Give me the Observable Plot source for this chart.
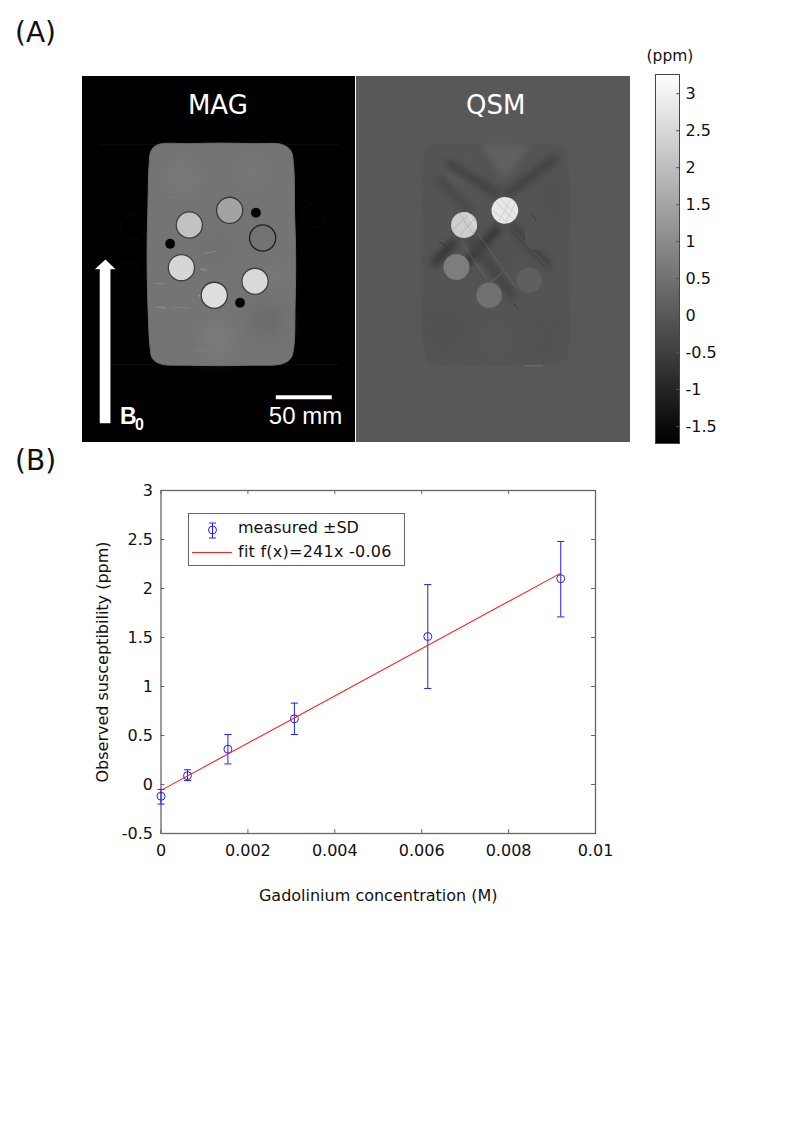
<!DOCTYPE html>
<html>
<head>
<meta charset="utf-8">
<script src="https://cdn.jsdelivr.net/npm/d3@7"></script>
<script src="https://cdn.jsdelivr.net/npm/@observablehq/plot@0.6"></script>
<style>
html,body{margin:0;padding:0;background:#fff;width:794px;height:1123px;overflow:hidden;font-family:"DejaVu Sans",sans-serif;}
.box{position:absolute;}
.box svg{display:block;overflow:visible;}
.soft{filter:blur(0.7px);}
.softer{filter:blur(3.5px);}
.softest{filter:blur(10px);}
#legend{position:absolute;left:188px;top:513px;width:217px;height:53px;border:1px solid #666;background:#fff;box-sizing:border-box;font-size:16px;color:#111;}
#legend span{position:absolute;left:49px;white-space:nowrap;line-height:20px;}
#legend svg{position:absolute;left:0;top:0;}
</style>
</head>
<body>
<div class="box" style="left:15px;top:16px;font-size:28px;color:#111;">(A)</div>
<div class="box" style="left:15px;top:444px;font-size:28px;color:#111;">(B)</div>
<div class="box" style="left:646.500px;top:47px;font-size:15.500px;color:#111;">(ppm)</div>
<div class="box" id="mag" style="left:82px;top:76px;"></div>
<div class="box" id="qsm" style="left:356px;top:76px;"></div>
<div class="box" id="bar" style="left:655px;top:74px;"></div>
<div class="box" id="chart" style="left:0;top:470px;"></div>
<div id="legend">
  <svg width="216" height="52"><g fill="none">
    <path d="M23.500 9V24M20 9H27M20 24H27" stroke="#2020ff"/><circle cx="23.500" cy="16" r="4" stroke="#2020ff"/>
    <path d="M3 38.500H43" stroke="#ff2020"/></g></svg>
  <span style="top:4px;">measured ±SD</span>
  <span style="top:28px;letter-spacing:.25px;">fit f(x)=241x -0.06</span>
</div>
<script>
// ---------- panel geometry in mm
const panelW = 244, panelH = 327;
const phantomOutline = [[68,60.7],[95,60],[123,59.5],[152,60],[178,60.7],[186,66],[188.7,80],[189.5,120],[190.5,158],[190,205],[188.7,243],[186,252],[178,256.8],[150,258],[123,258.3],[95,258],[70,256.8],[62.5,252],[60.5,243],[58.5,205],[57.7,158],[58.5,115],[59.5,80],[61.5,66]];
const arrowOutline = [[15.4,309.8],[25,309.8],[25,172.3],[29.5,172.3],[20.5,163.4],[11,172.3],[15.4,172.3]];
const scaleBar = [{x1:173.2,x2:223.2,y:286.6}];

// ---------- MAG
const magRods = [
  {x:131.5,y:119.6,r:11.7,v:.64,ring:.22},
  {x:95.5,y:132.7,r:11.7,v:.76,ring:.25},
  {x:161,y:144.3,r:11.7,v:.45,ring:.12},
  {x:88.4,y:170.8,r:11.7,v:.84,ring:.25},
  {x:154.2,y:183,r:11.7,v:.85,ring:.25},
  {x:117.8,y:195.5,r:11.7,v:.87,ring:.22}
];
const magHoles = [{x:155,y:121.7,r:4.4},{x:78.3,y:149.4,r:4.4},{x:140.8,y:202.1,r:4.4}];
const magPatches = [
  {x:165,y:218,r:14,v:.41},{x:120,y:235,r:14,v:.49},{x:90,y:90,r:14,v:.48},
  {x:150,y:85,r:14,v:.47},{x:172,y:178,r:8,v:.49},{x:120,y:155,r:10,v:.43}
];
const magSpecks = [
  {x1:104,y1:196,x2:110,y2:196,v:.75},{x1:105,y1:172,x2:111,y2:173,v:.58},{x1:109,y1:158,x2:119,y2:156,v:.55},
  {x1:66,y1:185,x2:72,y2:185,v:.55},{x1:66,y1:206,x2:75,y2:207,v:.57},{x1:80,y1:206,x2:96,y2:207,v:.5},
  {x1:78,y1:108,x2:84,y2:108,v:.5},{x1:100,y1:245,x2:112,y2:245,v:.5}
];
const magFaintLines = [{x1:16,x2:230,y:60.7},{x1:16,x2:230,y:257.5}];
const magFaintRings = [{x:45,y:134,r:11},{x:40,y:175,r:10},{x:207,y:124,r:11}];

// ---------- QSM values in ppm
const qsmBase = [{v:0}];
const qsmRods = [
  {x:132.1,y:119.6,r:11.9,v:2.8},
  {x:95.8,y:132.7,r:11.6,v:2.3},
  {x:89,y:170.2,r:11.6,v:0.72},
  {x:118.1,y:195.5,r:11.4,v:0.48},
  {x:153.9,y:182.1,r:11.4,v:0.12},
  {x:161.3,y:143.4,r:11.4,v:-0.09}
];
const qsmWedges = [{v:0.16,pts:[[110,60.7],[156,60.7],[131.5,92]]}];
const qsmBlobs = [
  {x:90,y:88,r:14,v:.05},{x:78,y:225,r:12,v:-.2},{x:125,y:235,r:14,v:-.02},{x:170,y:230,r:10,v:-.16},
  {x:175,y:110,r:8,v:-.2},{x:130,y:160,r:10,v:-.2}
];
const qsmDark = [
  {x1:178,y1:72,x2:133,y2:106.2,v:-.48},{x1:80,y1:76,x2:127.1,y2:106.2,v:-.48},
  {x1:127.1,y1:134.5,x2:88,y2:177,v:-.7},{x1:137.5,y1:133,x2:172,y2:170,v:-.48},
  {x1:100.3,y1:143.4,x2:140,y2:198,v:-.42},{x1:88.4,y1:146.4,x2:68,y2:168,v:-.7},
  {x1:103.3,y1:122.6,x2:72,y2:90,v:-.34}
];
const qsmThin = [
  {x1:108,y1:140,x2:143,y2:190,v:.5},{x1:95,y1:150,x2:116,y2:181,v:.5},{x1:120,y1:184,x2:130,y2:175,v:.7},
  {x1:139,y1:136,x2:170,y2:170,v:.3},{x1:73,y1:147,x2:83,y2:154,v:-.9},{x1:155,y1:122,x2:160,y2:128,v:-1},
  {x1:140,y1:203,x2:144,y2:208,v:-1.1},{x1:137,y1:110,x2:127,y2:129,v:2},{x1:124,y1:112,x2:140,y2:128,v:1.9},
  {x1:128,y1:109,x2:143,y2:124,v:2},{x1:122,y1:120,x2:134,y2:131,v:2},{x1:142,y1:112,x2:133,y2:130,v:2},
  {x1:91,y1:122,x2:105,y2:142,v:1.5},{x1:86,y1:137,x2:100,y2:123,v:1.5},
  {x1:92,y1:142,x2:105,y2:127,v:1.5},{x1:98,y1:121,x2:107,y2:136,v:3},{x1:150,y1:258.5,x2:166,y2:258.5,v:.9}
];

// ---------- colour bar
const barDomain = [-1.73, 3.26];
const barTicks = [-1.5,-1,-0.5,0,0.5,1,1.5,2,2.5,3];
const barSteps = d3.range(0, 369).map(i => ({y1: barDomain[0] + i*(barDomain[1]-barDomain[0])/369, y2: barDomain[0] + (i+1)*(barDomain[1]-barDomain[0])/369}));

// ---------- chart
const concentration = [0, 0.00061, 0.00154, 0.00307, 0.00614, 0.0092];
const measured      = [-0.12, 0.09, 0.36, 0.67, 1.51, 2.10];
const sdLow         = [-0.20, 0.04, 0.21, 0.51, 0.98, 1.71];
const sdHigh        = [-0.05, 0.15, 0.51, 0.83, 2.04, 2.48];
const fitX = [0, 0.0092];
const fitY = [-0.06, 2.157];
const xTicks = [0,0.002,0.004,0.006,0.008,0.01];
const yTicks = [-0.5,0,0.5,1,1.5,2,2.5,3];
const xDomain = [0,0.01], yDomain = [-0.5,3];
const xTickLen = 0.00009, yTickLen = 0.04;

const points = concentration.map((x,i)=>({x,y:measured[i],lo:sdLow[i],hi:sdHigh[i]}));
const fit = fitX.map((x,i)=>({x,y:fitY[i]}));
const blue = "#2020ff", red = "#ff2020", ink = "#111", axisGray = "#666";
const cap = {draw(ctx,size){const r=Math.sqrt(size/Math.PI);ctx.moveTo(-r,0);ctx.lineTo(r,0);}};

const panelScales = {
  width:273, height:366, margin:0,
  x:{domain:[0,panelW],axis:null},
  y:{domain:[panelH,0],axis:null},
  r:{type:"linear",domain:[0,panelW],range:[0,273]},
  style:{fontFamily:"DejaVu Sans",background:"transparent"}
};

// MAG panel
document.getElementById("mag").append(Plot.plot({
  ...panelScales,
  color:{type:"linear",domain:[0,1],range:["#000","#fff"]},
  marks:[
    Plot.rect([{}],{x1:()=>0,x2:()=>panelW,y1:()=>0,y2:()=>panelH,fill:()=>0}),
    Plot.ruleY(magFaintLines,{x1:"x1",x2:"x2",y:"y",stroke:()=>.05,strokeWidth:1,className:"soft"}),
    Plot.dot(magFaintRings,{x:"x",y:"y",r:"r",stroke:()=>.035,fill:"none",strokeWidth:1,className:"soft"}),
    Plot.line(phantomOutline,{x:"0",y:"1",curve:"catmull-rom-closed",fill:()=>.455,stroke:()=>.42,strokeWidth:1,className:"soft"}),
    Plot.dot(magPatches,{x:"x",y:"y",r:"r",fill:"v",className:"softest"}),
    Plot.link(magSpecks,{x1:"x1",y1:"y1",x2:"x2",y2:"y2",stroke:"v",strokeWidth:1,className:"soft"}),
    Plot.dot(magRods,{x:"x",y:"y",r:"r",fill:"v",stroke:"ring",strokeWidth:1.3,className:"soft"}),
    Plot.dot(magHoles,{x:"x",y:"y",r:"r",fill:()=>.02,className:"soft"}),
    Plot.line(arrowOutline,{x:"0",y:"1",fill:()=>1,stroke:"none"}),
    Plot.ruleY(scaleBar,{x1:"x1",x2:"x2",y:"y",stroke:()=>1,strokeWidth:4}),
    Plot.text(["MAG"],{x:()=>121,y:()=>26,fill:()=>1,fontSize:26,fontFamily:"DejaVu Sans"}),
    Plot.text(["50 mm"],{x:()=>199.3,y:()=>304,fill:()=>1,fontSize:24,fontFamily:"Liberation Sans"}),
    Plot.text(["B"],{x:()=>33.5,y:()=>303.5,textAnchor:"start",fill:()=>1,fontSize:23,fontWeight:"bold",fontFamily:"Liberation Sans"}),
    Plot.text(["0"],{x:()=>47,y:()=>311,textAnchor:"start",fill:()=>1,fontSize:16,fontWeight:"bold",fontFamily:"Liberation Sans"})
  ]
}));

// QSM panel
document.getElementById("qsm").append(Plot.plot({
  ...panelScales, width:274,
  r:{type:"linear",domain:[0,panelW],range:[0,274]},
  color:{type:"linear",domain:barDomain,range:["#000","#fff"]},
  marks:[
    Plot.rect(qsmBase,{x1:()=>0,x2:()=>panelW,y1:()=>0,y2:()=>panelH,fill:"v"}),
    Plot.line(phantomOutline,{x:"0",y:"1",curve:"catmull-rom-closed",fill:()=>-.09,stroke:"none"}),
    Plot.dot(qsmBlobs,{x:"x",y:"y",r:"r",fill:"v",className:"softest"}),
    ...qsmWedges.map(w=>Plot.line(w.pts,{x:"0",y:"1",fill:()=>w.v,stroke:"none",className:"softer"})),
    Plot.link(qsmDark,{x1:"x1",y1:"y1",x2:"x2",y2:"y2",stroke:"v",strokeWidth:8,className:"softer"}),
    Plot.dot(qsmRods,{x:"x",y:"y",r:"r",fill:"v",className:"soft"}),
    Plot.link(qsmThin,{x1:"x1",y1:"y1",x2:"x2",y2:"y2",stroke:"v",strokeWidth:1,strokeOpacity:.6}),
    Plot.text(["QSM"],{x:()=>124,y:()=>26,fill:()=>3.26,fontSize:26,fontFamily:"DejaVu Sans"})
  ]
}));

// colour bar
document.getElementById("bar").append(Plot.plot({
  width:70, height:369, marginLeft:0, marginRight:46, marginTop:0, marginBottom:0,
  x:{domain:[0,1],axis:null},
  y:{domain:barDomain},
  color:{type:"linear",domain:barDomain,range:["#000","#fff"]},
  style:{fontFamily:"DejaVu Sans",fontSize:"16px",background:"transparent",color:ink},
  marks:[
    Plot.rect(barSteps,{x1:()=>0,x2:()=>1,y1:"y1",y2:"y2",fill:"y1",shapeRendering:"crispEdges"}),
    Plot.ruleY(barTicks,{x1:()=>.88,x2:()=>1,stroke:"#555"}),
    Plot.frame({stroke:"#444"}),
    Plot.axisY(barTicks,{anchor:"right",tickSize:0,tickPadding:6,label:null,tickFormat:d=>String(d),fontSize:16,fill:ink})
  ]
}));

// chart
document.getElementById("chart").append(Plot.plot({
  width:794, height:450, marginLeft:160.5, marginRight:199, marginTop:20, marginBottom:87,
  x:{domain:xDomain,label:null},
  y:{domain:yDomain,label:null},
  style:{fontFamily:"DejaVu Sans",fontSize:"16px",background:"transparent",color:ink},
  marks:[
    Plot.frame({stroke:axisGray,strokeWidth:1.3}),
    Plot.axisX(xTicks,{anchor:"bottom",tickSize:0,tickPadding:11,tickFormat:d=>String(d),fontSize:16,label:"Gadolinium concentration (M)",labelAnchor:"center",labelOffset:67,labelArrow:"none",fill:ink}),
    Plot.axisY(yTicks,{anchor:"left",tickSize:0,tickPadding:8,tickFormat:d=>String(d),fontSize:16,label:"Observed susceptibility (ppm)",labelAnchor:"center",labelOffset:64,labelArrow:"none",fill:ink}),
    Plot.ruleX(xTicks,{x:d=>d,y1:()=>yDomain[0],y2:()=>yDomain[0]+yTickLen,stroke:axisGray}),
    Plot.ruleX(xTicks,{x:d=>d,y1:()=>yDomain[1],y2:()=>yDomain[1]-yTickLen,stroke:axisGray}),
    Plot.ruleY(yTicks,{y:d=>d,x1:()=>xDomain[0],x2:()=>xDomain[0]+xTickLen,stroke:axisGray}),
    Plot.ruleY(yTicks,{y:d=>d,x1:()=>xDomain[1],x2:()=>xDomain[1]-xTickLen,stroke:axisGray}),
    Plot.ruleX(points,{x:"x",y1:"lo",y2:"hi",stroke:blue,strokeWidth:1}),
    Plot.dot(points,{x:"x",y:"lo",symbol:cap,r:3.6,stroke:blue,strokeWidth:1}),
    Plot.dot(points,{x:"x",y:"hi",symbol:cap,r:3.6,stroke:blue,strokeWidth:1}),
    Plot.dot(points,{x:"x",y:"y",r:4,stroke:blue,fill:"none",strokeWidth:1}),
    Plot.line(fit,{x:"x",y:"y",stroke:red,strokeWidth:1.1})
  ]
}));
</script>
</body>
</html>
